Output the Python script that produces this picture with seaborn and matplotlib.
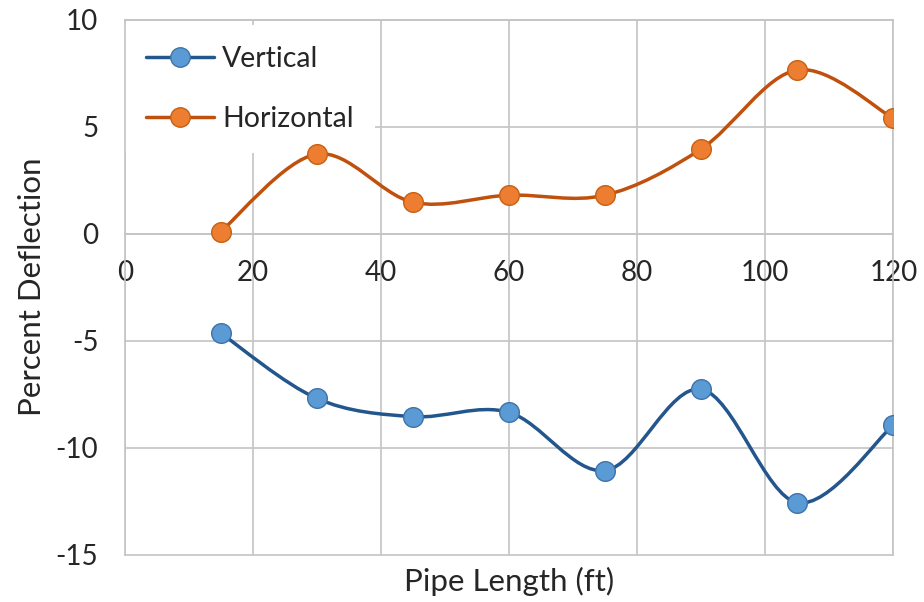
import numpy as np
import pandas as pd
import seaborn as sns
import matplotlib.pyplot as plt
from matplotlib.path import Path
from matplotlib.patches import PathPatch
from matplotlib.lines import Line2D

# Measured deflection along the pipe
pipe_length = [15, 30, 45, 60, 75, 90, 105, 120]
vertical = [-4.65, -7.7, -8.55, -8.35, -11.07, -7.27, -12.57, -8.94]
horizontal = [0.1, 3.72, 1.47, 1.8, 1.8, 3.96, 7.65, 5.39]
series_names = ["Vertical", "Horizontal"]
x_ticks = [0, 20, 40, 60, 80, 100, 120]
y_ticks = [-15, -10, -5, 0, 5, 10]

line_colors = {"Vertical": "#22568C", "Horizontal": "#C0500E"}
fill_colors = {"Vertical": "#5B9BD5", "Horizontal": "#ED7D31"}
edge_colors = {"Vertical": "#3E73A8", "Horizontal": "#C9600F"}
grid_color = "#C4C4C4"
text_color = "#262626"

sns.set_theme(style="white")
plt.rcParams["font.family"] = ["Lato", "DejaVu Sans"]
plt.rcParams["axes.unicode_minus"] = False

df = pd.DataFrame({
    "Pipe Length": pipe_length * 2,
    "Deflection": vertical + horizontal,
    "Series": [series_names[0]] * len(vertical) + [series_names[1]] * len(horizontal),
})

fig, ax = plt.subplots(figsize=(9.24, 6.02), dpi=100)
fig.subplots_adjust(left=0.135, right=0.9668, top=0.9673, bottom=0.0786)


def smooth_path(xs, ys):
    """Cubic Bezier path through the points (spreadsheet-style smoothed line)."""
    pts = np.column_stack([xs, ys]).astype(float)
    padded = np.vstack([pts[0], pts, pts[-1]])
    verts = [pts[0]]
    codes = [Path.MOVETO]
    for i in range(len(pts) - 1):
        p0, p1, p2, p3 = padded[i], padded[i + 1], padded[i + 2], padded[i + 3]
        c1 = p1 + (p2 - p0) / 6.0
        c2 = p2 - (p3 - p1) / 6.0
        verts += [c1, c2, p2]
        codes += [Path.CURVE4] * 3
    return Path(verts, codes)


for name in series_names:
    sub = df[df["Series"] == name]
    ax.add_patch(PathPatch(smooth_path(sub["Pipe Length"], sub["Deflection"]),
                           fill=False, edgecolor=line_colors[name], lw=2.5,
                           capstyle="round", joinstyle="round", zorder=3))
    sns.scatterplot(data=sub, x="Pipe Length", y="Deflection", ax=ax,
                    color=fill_colors[name], edgecolor=edge_colors[name],
                    linewidth=1.0, s=200, legend=False, zorder=4)

ax.set_xlim(0, 120)
ax.set_ylim(-15, 10)
ax.set_xticks(x_ticks)
ax.set_yticks(y_ticks)

ax.grid(True, color=grid_color, lw=1.2)
for gl in ax.get_xgridlines() + ax.get_ygridlines():
    gl.set_clip_on(False)

for side in ["left", "right", "top", "bottom"]:
    ax.spines[side].set_color(grid_color)
    ax.spines[side].set_linewidth(1.2)
ax.spines["bottom"].set_position(("data", 0))

ax.tick_params(axis="both", length=0, labelsize=20, colors=text_color)
ax.tick_params(axis="x", pad=19)
ax.tick_params(axis="y", pad=19)

ax.set_xlabel("Pipe Length (ft)", fontsize=22.5, color=text_color, va="top")
ax.set_ylabel("Percent Deflection", fontsize=22.5, color=text_color)
ax.xaxis.set_label_coords(0.5, -0.022)
ax.yaxis.set_label_coords(-0.103, 0.5)

handles = [
    Line2D([], [], color=line_colors[n], lw=2.5, marker="o", markersize=14,
           markerfacecolor=fill_colors[n], markeredgecolor=edge_colors[n],
           markeredgewidth=1.0)
    for n in series_names
]
leg = ax.legend(handles, series_names, loc="upper left",
                bbox_to_anchor=(0.0, 0.99), borderaxespad=0,
                fontsize=20.5, frameon=True, facecolor="white", edgecolor="none",
                framealpha=1, fancybox=False, handlelength=2.4,
                handletextpad=0.3, labelspacing=1.2, borderpad=0.73)
for t in leg.get_texts():
    t.set_color(text_color)
leg.set_zorder(2)

fig.savefig("out.png", dpi=100, facecolor="white")
